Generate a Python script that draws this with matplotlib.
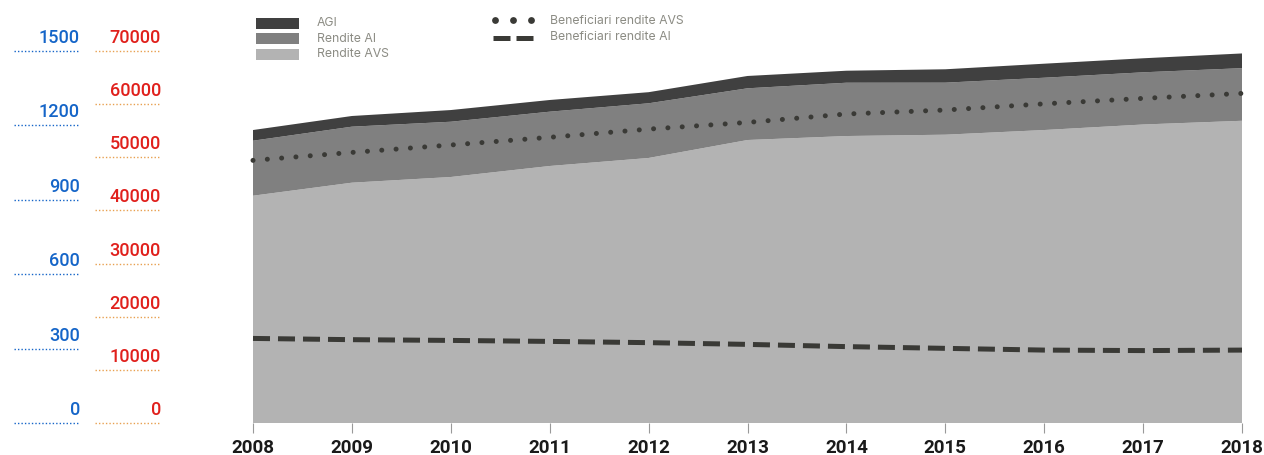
import matplotlib
matplotlib.use("Agg")
from matplotlib import pyplot as plt
from matplotlib.patches import Rectangle

plt.rcParams['font.family'] = ['Roboto', 'DejaVu Sans']

years = [2008, 2009, 2010, 2011, 2012, 2013, 2014, 2015, 2016, 2017, 2018]

# spese (scala rossa)
rendite_avs = [42770, 45220, 46290, 48360, 49870, 53250, 54000, 54250, 55130, 56170, 56870]
rendite_ai = [10350, 10540, 10400, 10220, 10290, 9730, 10030, 9790, 9840, 9820, 9900]
agi = [2010, 2010, 2200, 2200, 2090, 2320, 2260, 2520, 2640, 2640, 2770]

# beneficiari (scala blu)
benef_avs = [1059, 1091, 1121, 1152, 1185, 1212, 1246, 1262, 1287, 1309, 1329]
benef_ai = [341, 336, 333, 329, 324, 317, 308, 301, 294, 292, 294]

blue_ticks = [0, 300, 600, 900, 1200, 1500]
red_ticks = [0, 10000, 20000, 30000, 40000, 50000, 60000, 70000]

c_agi, c_ai, c_avs = '#404040', '#808080', '#b3b3b3'
c_line = '#3a3a36'
c_blue, c_red, c_orange = '#1565c8', '#e0201c', '#e8a050'
c_legend = '#8c8c84'

W, H = 1264, 455
fig = plt.figure(figsize=(W / 100, H / 100), dpi=100)
bottom, height = (H - 423) / H, 372 / H

ax = fig.add_axes([253 / W, bottom, 989 / W, height])
ax.stackplot(years, rendite_avs, rendite_ai, agi, colors=[c_avs, c_ai, c_agi], lw=0)
ax.set_xlim(2008, 2018)
ax.set_ylim(0, 70000)
ax.set_yticks([])
for s in ax.spines.values():
    s.set_visible(False)
ax.set_xticks(years)
ax.set_xticklabels([str(y) for y in years], fontsize=13.5, fontweight='bold', color='#1a1a1a')
ax.tick_params(axis='x', length=7.2, width=0.8, color='#999999', pad=4.5)

ax2 = ax.twinx()
ax2.set_ylim(0, 1500)
ax2.set_yticks([])
for s in ax2.spines.values():
    s.set_visible(False)
ax2.plot(years, benef_avs, color=c_line, lw=3.6, linestyle=(0, (0.01, 2.86)),
         dash_capstyle='round', clip_on=False)
ax2.plot(years, benef_ai, color=c_line, lw=3.6, linestyle=(0, (3.4, 1.6)),
         dash_capstyle='butt', clip_on=False)

# scale di sinistra
def side_scale(x0, ticks, lim, tcol, lcol):
    a = fig.add_axes([x0 / W, bottom, 64 / W, height])
    a.set_xlim(0, 1)
    a.set_ylim(0, lim)
    a.axis('off')
    for t in ticks:
        a.plot([0, 1], [t, t], color=lcol, lw=1, linestyle=(0, (1, 1.5)), clip_on=False)
        a.annotate(str(t), (1.03, t), xytext=(0, 5.8), textcoords='offset points',
                   ha='right', va='baseline', fontsize=13, fontweight='medium', color=tcol,
                   annotation_clip=False)

side_scale(14, blue_ticks, 1500, c_blue, c_blue)
side_scale(95, red_ticks, 70000, c_red, c_orange)

# legenda
lg = fig.add_axes([0, 0, 1, 1])
lg.set_xlim(0, W)
lg.set_ylim(H, 0)
lg.axis('off')
lfont = dict(fontsize=8.8, color=c_legend, va='center', ha='left', family=['Inter', 'DejaVu Sans'])
for (y, col, lab) in [(18, c_agi, 'AGI'), (33, c_ai, 'Rendite AI'), (48.5, c_avs, 'Rendite AVS')]:
    lg.add_patch(Rectangle((256, y), 43, 11, color=col, lw=0))
    lg.text(317, y + 5.5, lab, **lfont)
lg.scatter([495, 513, 531], [20, 20, 20], s=24, color=c_line, lw=0)
lg.plot([493, 533], [37.5, 37.5], color=c_line, lw=3.6, linestyle=(0, (3.4, 1.2)))
lg.text(550, 20.5, 'Beneficiari rendite AVS', **lfont)
lg.text(550, 37.5, 'Beneficiari rendite AI', **lfont)

fig.savefig('out.png', dpi=100)
